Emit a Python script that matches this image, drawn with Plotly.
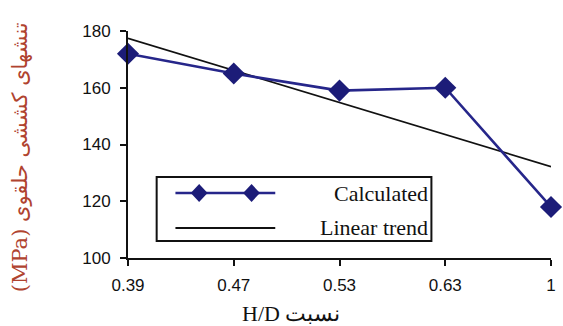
import plotly.graph_objects as go

categories = ["0.39", "0.47", "0.53", "0.63", "1"]
calculated = [172, 165, 159, 160, 118]
trend_categories = ["0.39", "1"]
trend_values = [177.4, 132.2]
y_ticks = [100, 120, 140, 160, 180]

NAVY = "#26268a"
MARK = "#1c1c78"

W, H = 563, 326
L, R, T, B = 128, 7, 31, 68
pw, ph = W - L - R, H - T - B

def px(x):
    return (x - L) / pw

def py(y):
    return (H - B - y) / ph

fig = go.Figure()
fig.add_trace(go.Scatter(x=trend_categories, y=trend_values, mode="lines",
                         line=dict(color="#111111", width=1.6),
                         showlegend=False, cliponaxis=False))
fig.add_trace(go.Scatter(x=categories, y=calculated, mode="lines+markers",
                         line=dict(color=NAVY, width=2.6),
                         marker=dict(symbol="diamond", size=17, color=MARK,
                                     line=dict(width=0)),
                         showlegend=False, cliponaxis=False))

shapes = []
shapes.append(dict(type="rect", xref="paper", yref="paper",
                   x0=px(157), x1=px(435), y0=py(241), y1=py(177),
                   line=dict(color="#111111", width=2), fillcolor="white", layer="above"))
shapes.append(dict(type="line", xref="paper", yref="paper",
                   x0=px(176), x1=px(277), y0=py(193), y1=py(193),
                   line=dict(color=NAVY, width=2.6), layer="above"))
shapes.append(dict(type="line", xref="paper", yref="paper",
                   x0=px(176), x1=px(277), y0=py(228), y1=py(228),
                   line=dict(color="#111111", width=2), layer="above"))
for cx in (200, 253):
    cy = 193
    path = "M {} {} L {} {} L {} {} L {} {} Z".format(
        px(cx - 8.5), py(cy), px(cx), py(cy - 9), px(cx + 8.5), py(cy), px(cx), py(cy + 9))
    shapes.append(dict(type="path", xref="paper", yref="paper", path=path,
                       fillcolor=MARK, line=dict(color=MARK, width=0), layer="above"))

annotations = [
    dict(text="Calculated", xref="paper", yref="paper", x=px(434), y=py(193),
         xanchor="right", yanchor="middle", showarrow=False,
         font=dict(family="Liberation Serif", size=22, color="#111111")),
    dict(text="Linear trend", xref="paper", yref="paper", x=px(434), y=py(227),
         xanchor="right", yanchor="middle", showarrow=False,
         font=dict(family="Liberation Serif", size=22, color="#111111")),
    dict(text="H/D نسبت", xref="paper", yref="paper", x=px(293), y=py(313),
         xanchor="center", yanchor="middle", showarrow=False,
         font=dict(family="Liberation Serif", size=22, color="#111111")),
    dict(text="(MPa) تنشهای کششی حلقوی", xref="paper", yref="paper", x=px(19), y=py(157),
         xanchor="center", yanchor="middle", showarrow=False, textangle=-90,
         font=dict(family="DejaVu Serif, DejaVu Sans", size=21, color="#b0432f")),
]

fig.update_layout(
    width=W, height=H,
    margin=dict(l=L, r=R, t=T, b=B),
    paper_bgcolor="white", plot_bgcolor="white",
    shapes=shapes, annotations=annotations,
    xaxis=dict(type="category", categoryorder="array", categoryarray=categories,
               range=[0, len(categories) - 1], showgrid=False, zeroline=False,
               showline=True, linecolor="#111111", linewidth=2,
               ticks="outside", ticklen=6, tickwidth=1.5, tickcolor="#111111",
               ticklabelstandoff=5,
               tickfont=dict(family="Liberation Sans", size=17, color="#111111")),
    yaxis=dict(range=[100, 180], tickvals=y_ticks, showgrid=False, zeroline=False,
               showline=True, linecolor="#111111", linewidth=2,
               ticks="outside", ticklen=6, tickwidth=1.5, tickcolor="#111111",
               ticklabelstandoff=6,
               tickfont=dict(family="Liberation Sans", size=17, color="#111111")),
)

fig.write_html("out.html")
